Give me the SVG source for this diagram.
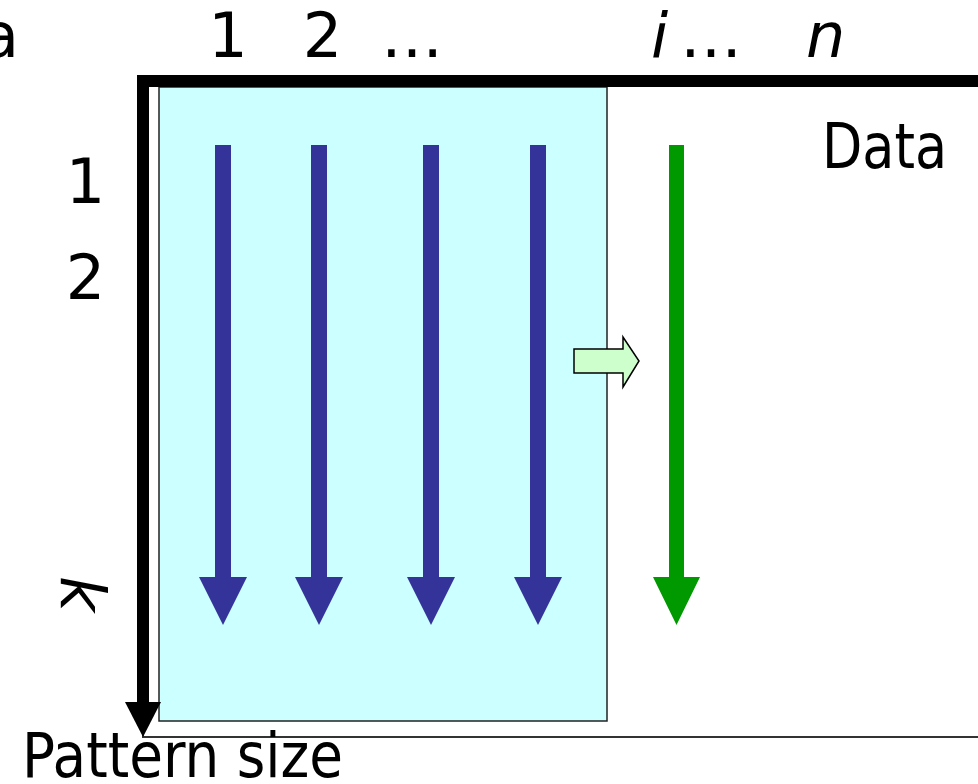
<svg xmlns="http://www.w3.org/2000/svg" width="978" height="784" viewBox="0 0 978 784">
<style>
.t{font-family:"DejaVu Sans","Verdana",sans-serif;font-size:62px;fill:#000}
.it{font-style:italic}
.blue{fill:#333399}
.green{fill:#009900}
</style>
<rect width="978" height="784" fill="#fff"/>
<g id="data">
<rect x="143" y="81" width="850" height="656" fill="#fff" stroke="#333" stroke-width="2"/>
<text class="t" x="822" y="168" textLength="125" lengthAdjust="spacingAndGlyphs">Data</text>
</g>
<g id="pattern">
<rect x="159" y="87" width="448" height="634" fill="#CCFFFF" stroke="#222" stroke-width="1.5"/>
</g>
<g id="axes">
<rect x="143" y="75" width="840" height="12" fill="#000"/>
<rect x="137" y="75" width="12" height="629" fill="#000"/>
<polygon points="125,702 161,702 143,737" fill="#000"/>
</g>
<g id="connectors">
<g class="blue">
<polygon points="215,145 231,145 231,577 247,577 223,625 199,577 215,577"/>
<polygon points="311,145 327,145 327,577 343,577 319,625 295,577 311,577"/>
<polygon points="423,145 439,145 439,577 455,577 431,625 407,577 423,577"/>
<polygon points="530,145 546,145 546,577 562,577 538,625 514,577 530,577"/>
</g>
<polygon class="green" points="669,145 684,145 684,577 700,577 676.5,625 653,577 669,577"/>
<polygon points="574,349 623,349 623,337 639,361 623,387 623,373 574,373" fill="#CCFFCC" stroke="#000" stroke-width="1.5"/>
</g>
<g id="labels">
<text class="t" x="19" y="57" text-anchor="end">a</text>
<text class="t" x="228" y="57" text-anchor="middle">1</text>
<text class="t" x="322.5" y="57" text-anchor="middle">2</text>
<text class="t" x="412" y="57" text-anchor="middle">…</text>
<text class="t it" x="651" y="57">i</text>
<text class="t" x="711" y="57" text-anchor="middle">…</text>
<text class="t it" x="806" y="57">n</text>
<text class="t" x="85.5" y="203" text-anchor="middle">1</text>
<text class="t" x="85.5" y="299" text-anchor="middle">2</text>
<text class="t it" transform="translate(61,576) rotate(90)">k</text>
<text class="t" x="22" y="777" textLength="321" lengthAdjust="spacingAndGlyphs">Pattern size</text>
</g>
</svg>
